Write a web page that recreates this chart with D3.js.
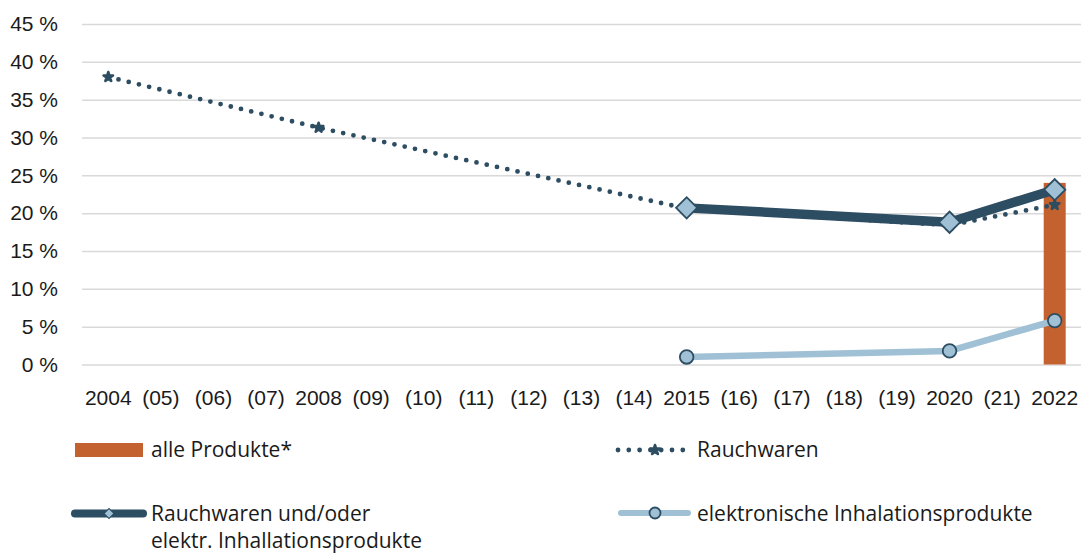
<!DOCTYPE html>
<html>
<head>
<meta charset="utf-8">
<script src="https://cdn.jsdelivr.net/npm/d3@7"></script>
<style>
  html, body { margin: 0; padding: 0; background: #fff; }
  svg { display: block; font-family: "Open Sans", "Noto Sans", sans-serif; }
</style>
</head>
<body>
<svg id="chart" width="1081" height="554"></svg>
<script>
// Categories (survey years; bracketed years had no survey)
const years = ["2004","(05)","(06)","(07)","2008","(09)","(10)","(11)","(12)","(13)","(14)","2015","(16)","(17)","(18)","(19)","2020","(21)","2022"];

// Series values in percent
const alleProdukte = [{ year: "2022", value: 24.0 }];
const rauchwaren = [
  { year: "2004", value: 38.0 },
  { year: "2008", value: 31.3 },
  { year: "2015", value: 20.6 },
  { year: "2020", value: 18.4 },
  { year: "2022", value: 21.1 }
];
const rauchwarenOderE = [
  { year: "2015", value: 20.7 },
  { year: "2020", value: 18.8 },
  { year: "2022", value: 23.1 }
];
const elektronisch = [
  { year: "2015", value: 1.0 },
  { year: "2020", value: 1.8 },
  { year: "2022", value: 5.8 }
];

const yTicks = [0, 5, 10, 15, 20, 25, 30, 35, 40, 45];

const C_BAR = "#c4622f";
const C_DARK = "#2d4d62";
const C_LIGHT = "#a0c1d5";
const C_TEXT = "#1a1a1a";
const FS = 21;

const svg = d3.select("#chart");

const x = d3.scaleBand().domain(years).range([82, 1081]).padding(0);
const y = d3.scaleLinear().domain([0, 45]).range([364.5, 24]);
const cx = d => x(d.year) + x.bandwidth() / 2;

// Gridlines and y labels
const yAxis = d3.axisLeft(y).tickValues(yTicks).tickSize(-(1081 - 82)).tickFormat(d => d + " %");
const gy = svg.append("g").attr("transform", "translate(82,0)").call(yAxis);
gy.select(".domain").remove();
gy.selectAll(".tick line").attr("stroke", "#d9d9d9").attr("stroke-width", 1.5);
gy.selectAll(".tick text").attr("x", -24).attr("font-size", FS).attr("fill", C_TEXT);

// x labels
const xAxis = d3.axisBottom(x).tickSize(0);
const gx = svg.append("g").attr("transform", "translate(0,364.5)").call(xAxis);
gx.select(".domain").remove();
gx.selectAll(".tick text").attr("dy", 0).attr("y", 40).attr("font-size", FS).attr("fill", C_TEXT);

// Bar: alle Produkte
const barW = 22;
svg.append("g").selectAll("rect").data(alleProdukte).join("rect")
  .attr("x", d => cx(d) - barW / 2)
  .attr("y", d => y(d.value))
  .attr("width", barW)
  .attr("height", d => y(0) - y(d.value))
  .attr("fill", C_BAR);

const line = d3.line().x(cx).y(d => y(d.value));
const starPath = d3.symbol(d3.symbolStar, 28)();

// Rauchwaren (dotted)
svg.append("path").datum(rauchwaren)
  .attr("d", line).attr("fill", "none")
  .attr("stroke", C_DARK).attr("stroke-width", 4.8)
  .attr("stroke-linecap", "round").attr("stroke-dasharray", "0 10.5");
svg.append("g").selectAll("path").data(rauchwaren).join("path")
  .attr("transform", d => `translate(${cx(d)},${y(d.value)})`)
  .attr("d", starPath)
  .attr("fill", C_DARK).attr("stroke", C_DARK).attr("stroke-width", 2.5).attr("stroke-linejoin", "round");

// Rauchwaren und/oder elektr. Inhalationsprodukte
svg.append("path").datum(rauchwarenOderE)
  .attr("d", line).attr("fill", "none")
  .attr("stroke", C_DARK).attr("stroke-width", 9.5).attr("stroke-linejoin", "round");
svg.append("g").selectAll("path").data(rauchwarenOderE).join("path")
  .attr("transform", d => `translate(${cx(d)},${y(d.value)}) rotate(45)`)
  .attr("d", "M-7.5,-7.5H7.5V7.5H-7.5Z")
  .attr("fill", C_LIGHT).attr("stroke", C_DARK).attr("stroke-width", 1.8);

// elektronische Inhalationsprodukte
svg.append("path").datum(elektronisch)
  .attr("d", line).attr("fill", "none")
  .attr("stroke", C_LIGHT).attr("stroke-width", 6.5).attr("stroke-linejoin", "round");
svg.append("g").selectAll("circle").data(elektronisch).join("circle")
  .attr("cx", cx).attr("cy", d => y(d.value)).attr("r", 6.8)
  .attr("fill", C_LIGHT).attr("stroke", C_DARK).attr("stroke-width", 1.8);

// Legend
const lg = svg.append("g").attr("font-size", FS).attr("fill", C_TEXT);
lg.append("rect").attr("x", 75).attr("y", 443).attr("width", 68).attr("height", 14).attr("fill", C_BAR);
lg.append("text").attr("x", 151).attr("y", 457).text("alle Produkte*");

lg.append("line").attr("x1", 618).attr("x2", 687).attr("y1", 450).attr("y2", 450)
  .attr("stroke", C_DARK).attr("stroke-width", 4.8).attr("stroke-linecap", "round").attr("stroke-dasharray", "0 10.8");
lg.append("path").attr("transform", "translate(655,450)").attr("d", starPath)
  .attr("fill", C_DARK).attr("stroke", C_DARK).attr("stroke-width", 2.5).attr("stroke-linejoin", "round");
lg.append("text").attr("x", 697).attr("y", 457).text("Rauchwaren");

lg.append("line").attr("x1", 75).attr("x2", 143).attr("y1", 513.5).attr("y2", 513.5)
  .attr("stroke", C_DARK).attr("stroke-width", 8).attr("stroke-linecap", "round");
lg.append("path").attr("transform", "translate(109,513.5) rotate(45)").attr("d", "M-3.5,-3.5H3.5V3.5H-3.5Z")
  .attr("fill", C_LIGHT).attr("stroke", C_DARK).attr("stroke-width", 1);
const t2 = lg.append("text").attr("x", 151).attr("y", 521);
t2.append("tspan").attr("x", 151).text("Rauchwaren und/oder");
t2.append("tspan").attr("x", 151).attr("dy", 27).text("elektr. Inhallationsprodukte");

lg.append("line").attr("x1", 621).attr("x2", 688).attr("y1", 513).attr("y2", 513)
  .attr("stroke", C_LIGHT).attr("stroke-width", 6).attr("stroke-linecap", "round");
lg.append("circle").attr("cx", 655).attr("cy", 513).attr("r", 5.5)
  .attr("fill", C_LIGHT).attr("stroke", C_DARK).attr("stroke-width", 1.8);
lg.append("text").attr("x", 697).attr("y", 521).text("elektronische Inhalationsprodukte");
</script>
</body>
</html>
